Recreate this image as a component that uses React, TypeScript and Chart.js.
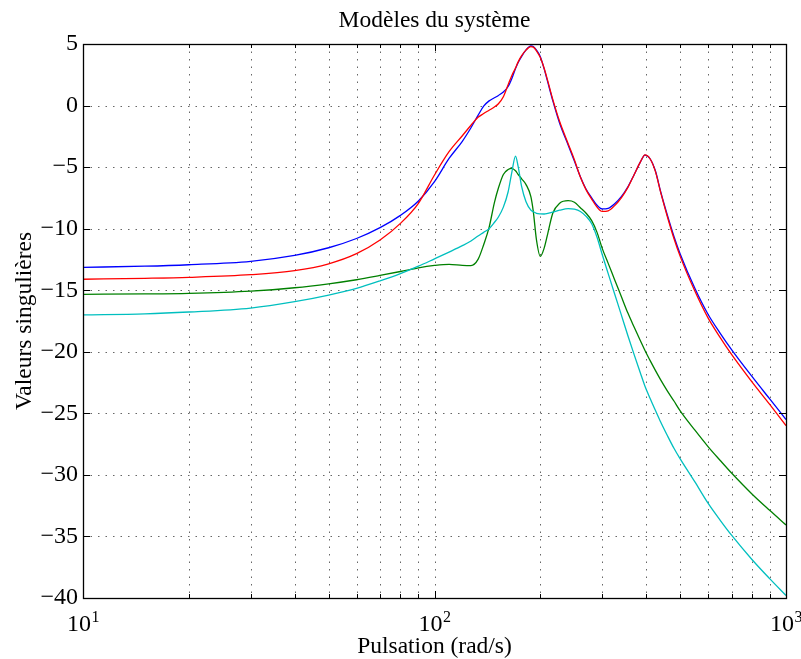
import React, { useEffect, useRef } from "react";
import { Chart, registerables } from "chart.js";

Chart.register(...registerables);

// Pulsation (rad/s)
const omega = [10, 15, 20, 30, 40, 50, 60, 70, 80, 90, 100, 110, 120, 127, 133, 138, 143, 148, 152, 157, 162, 166, 170, 173, 177, 182, 188, 191, 195, 200, 205, 210, 217, 227, 240, 250, 260, 270, 280, 290, 300, 312, 325, 340, 355, 370, 385, 397, 410, 425, 440, 460, 480, 500, 550, 600, 650, 700, 800, 900, 1000];

// Valeurs singulières (dB)
const blueSv = [-13.14, -13.05, -12.93, -12.65, -12.17, -11.55, -10.8, -9.92, -8.92, -7.75, -6.18, -4.3, -2.9, -1.8, -0.8, -0.05, 0.38, 0.63, 0.82, 1.1, 1.55, 2.2, 3.0, 3.5, 4.0, 4.5, 4.84, 4.8, 4.5, 3.97, 3.0, 1.9, 0.4, -1.44, -3.2, -4.5, -5.78, -6.8, -7.5, -8.1, -8.4, -8.35, -8.0, -7.4, -6.6, -5.6, -4.6, -4.02, -4.3, -5.3, -7.0, -8.93, -10.63, -12.05, -14.82, -16.95, -18.5, -19.82, -22.0, -23.85, -25.5];
const redSv = [-14.11, -14.03, -13.95, -13.74, -13.41, -12.85, -12.03, -10.92, -9.57, -7.94, -5.64, -3.75, -2.45, -1.6, -0.95, -0.65, -0.38, -0.12, 0.15, 0.72, 1.7, 2.45, 3.05, 3.55, 4.05, 4.5, 4.78, 4.75, 4.45, 3.9, 3.05, 2.0, 0.5, -1.3, -3.1, -4.4, -5.8, -6.85, -7.6, -8.25, -8.6, -8.55, -8.15, -7.5, -6.65, -5.6, -4.6, -4.0, -4.3, -5.35, -7.05, -9.05, -10.8, -12.25, -15.05, -17.25, -18.85, -20.22, -22.45, -24.3, -26.0];
const greenSv = [-15.33, -15.3, -15.25, -15.07, -14.8, -14.48, -14.15, -13.8, -13.48, -13.18, -12.99, -12.9, -12.98, -13.0, -12.5, -11.3, -9.9, -7.9, -6.7, -5.6, -5.2, -5.1, -5.3, -5.6, -5.95, -6.4, -7.4, -8.6, -10.9, -12.25, -11.6, -10.4, -8.75, -7.94, -7.73, -7.85, -8.3, -8.75, -9.35, -10.3, -11.6, -12.82, -14.1, -15.51, -16.86, -18.01, -19.08, -19.9, -20.68, -21.51, -22.28, -23.19, -24.0, -24.8, -26.35, -27.7, -28.83, -29.85, -31.55, -32.9, -34.07];
const cyanSv = [-17.0, -16.92, -16.77, -16.45, -15.93, -15.39, -14.85, -14.24, -13.65, -13.05, -12.45, -11.9, -11.38, -11.0, -10.6, -10.3, -10.0, -9.5, -9.05, -8.25, -7.0, -5.4, -4.1, -4.96, -6.59, -7.8, -8.5, -8.62, -8.75, -8.8, -8.81, -8.75, -8.65, -8.5, -8.38, -8.42, -8.6, -9.0, -9.6, -10.7, -12.1, -13.65, -15.25, -17.0, -18.7, -20.25, -21.7, -22.8, -23.75, -24.75, -25.7, -26.82, -27.84, -28.7, -30.55, -32.3, -33.69, -34.9, -36.87, -38.45, -39.8];

// Axes
const xMajorTicks = [10, 100, 1000];
const xMinorTicks = [20, 30, 40, 50, 60, 70, 80, 90, 200, 300, 400, 500, 600, 700, 800, 900];
const xTickExponents = ["1", "2", "3"];
const yTicks = [-40, -35, -30, -25, -20, -15, -10, -5, 0, 5];

const titleText = "Modèles du système";
const xLabelText = "Pulsation (rad/s)";
const yLabelText = "Valeurs singulières";

const FONT = "'Liberation Serif', 'Times New Roman', serif";

const decor = {
  id: "decor",
  beforeDatasetsDraw(chart: any) {
    const { ctx, chartArea: a, scales } = chart;
    const xs = scales.x;
    const ys = scales.y;
    ctx.save();
    ctx.strokeStyle = "rgba(0,0,0,0.6)";
    ctx.lineWidth = 1;
    ctx.setLineDash([1.5, 6]);
    [...xMinorTicks, ...xMajorTicks].forEach((v) => {
      const px = Math.round(xs.getPixelForValue(v)) + 0.5;
      if (px <= a.left + 1 || px >= a.right - 1) return;
      ctx.beginPath();
      ctx.moveTo(px, a.top);
      ctx.lineTo(px, a.bottom);
      ctx.stroke();
    });
    yTicks.forEach((v) => {
      const py = Math.round(ys.getPixelForValue(v)) + 0.5;
      if (py <= a.top + 1 || py >= a.bottom - 1) return;
      ctx.beginPath();
      ctx.moveTo(a.left, py);
      ctx.lineTo(a.right, py);
      ctx.stroke();
    });
    ctx.restore();
  },
  afterDatasetsDraw(chart: any) {
    const { ctx, chartArea: a, scales } = chart;
    const xs = scales.x;
    const ys = scales.y;
    ctx.save();
    ctx.setLineDash([]);
    ctx.strokeStyle = "#000";
    ctx.lineWidth = 1;
    const drawX = (v: number, len: number) => {
      const px = Math.round(xs.getPixelForValue(v)) + 0.5;
      ctx.beginPath();
      ctx.moveTo(px, a.bottom);
      ctx.lineTo(px, a.bottom - len);
      ctx.moveTo(px, a.top);
      ctx.lineTo(px, a.top + len);
      ctx.stroke();
    };
    xMinorTicks.forEach((v) => drawX(v, 4));
    xMajorTicks.forEach((v) => drawX(v, 7));
    yTicks.forEach((v) => {
      const py = Math.round(ys.getPixelForValue(v)) + 0.5;
      ctx.beginPath();
      ctx.moveTo(a.left, py);
      ctx.lineTo(a.left + 7, py);
      ctx.moveTo(a.right, py);
      ctx.lineTo(a.right - 7, py);
      ctx.stroke();
    });
    ctx.lineWidth = 1.3;
    ctx.strokeRect(Math.round(a.left) + 0.5, Math.round(a.top) + 0.5, Math.round(a.right - a.left), Math.round(a.bottom - a.top));
    ctx.restore();
  },
  afterDraw(chart: any) {
    const { ctx, chartArea: a, scales } = chart;
    const xs = scales.x;
    const cx = (a.left + a.right) / 2;
    const cy = (a.top + a.bottom) / 2;
    ctx.save();
    ctx.fillStyle = "#000";
    ctx.textBaseline = "alphabetic";
    // title
    ctx.font = `23.5px ${FONT}`;
    ctx.textAlign = "center";
    ctx.fillText(titleText, cx, 27);
    // x label
    ctx.fillText(xLabelText, cx, 653);
    // x tick labels with exponent
    xMajorTicks.forEach((v, i) => {
      const px = xs.getPixelForValue(v);
      ctx.font = `24px ${FONT}`;
      const wb = ctx.measureText("10").width;
      ctx.font = `16px ${FONT}`;
      const we = ctx.measureText(xTickExponents[i]).width;
      const start = px - (wb + we) / 2;
      ctx.textAlign = "left";
      ctx.font = `24px ${FONT}`;
      ctx.fillText("10", start, 631);
      ctx.font = `16px ${FONT}`;
      ctx.fillText(xTickExponents[i], start + wb + 0.5, 622);
    });
    // y label
    ctx.translate(31, cy);
    ctx.rotate(-Math.PI / 2);
    ctx.font = `23.5px ${FONT}`;
    ctx.textAlign = "center";
    ctx.fillText(yLabelText, 0, 0);
    ctx.restore();
  },
};

export default function App() {
  const ref = useRef<HTMLCanvasElement | null>(null);
  useEffect(() => {
    document.body.style.margin = "0";
    const canvas = ref.current;
    if (!canvas) return;
    const mk = (vals: number[]) => omega.map((w, i) => ({ x: w, y: vals[i] }));
    const ds = (label: string, vals: number[], color: string) => ({
      label,
      data: mk(vals),
      borderColor: color,
      backgroundColor: color,
      borderWidth: 1.3,
      pointRadius: 0,
      fill: false,
      cubicInterpolationMode: "monotone" as const,
    });
    const chart = new Chart(canvas, {
      type: "line",
      data: {
        datasets: [
          ds("cyan", cyanSv, "#00bfbf"),
          ds("red", redSv, "#ff0000"),
          ds("green", greenSv, "#008000"),
          ds("blue", blueSv, "#0000ff"),
        ],
      },
      options: {
        responsive: false,
        maintainAspectRatio: false,
        animation: false,
        layout: { padding: { top: 44, right: 15, left: 0, bottom: 0 } },
        plugins: {
          legend: { display: false },
          title: { display: false },
          tooltip: { enabled: false },
        },
        elements: { point: { radius: 0 } },
        scales: {
          x: {
            type: "logarithmic",
            min: 10,
            max: 1000,
            grid: { display: false, drawTicks: false },
            border: { display: false },
            ticks: { display: false },
            afterFit: (s: any) => {
              s.height = 61;
            },
          },
          y: {
            type: "linear",
            min: -40,
            max: 5,
            grid: { display: false, drawTicks: false },
            border: { display: false },
            ticks: {
              stepSize: 5,
              padding: 5,
              color: "#000",
              font: { family: FONT, size: 24 },
              callback: (v: any) => (Number(v) < 0 ? "\u2212" + Math.abs(Number(v)) : String(v)),
            },
            afterFit: (s: any) => {
              s.width = 83;
            },
          },
        },
      },
      plugins: [decor],
    });
    return () => chart.destroy();
  }, []);
  return <canvas ref={ref} width={801} height={659} style={{ display: "block" }} />;
}
